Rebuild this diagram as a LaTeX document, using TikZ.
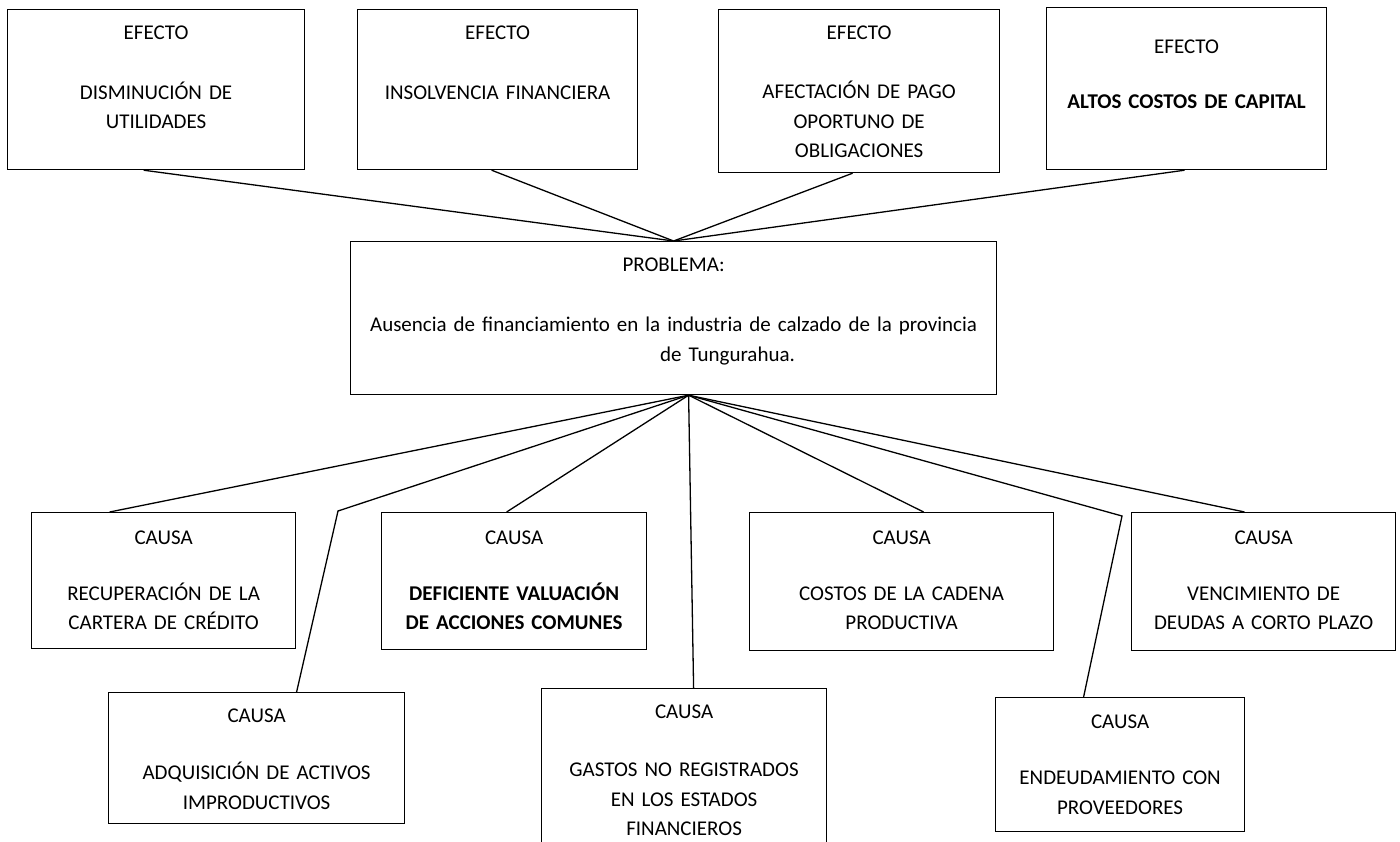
\documentclass[tikz,border=0pt]{standalone}
\usepackage{fontspec}
\setmainfont{Carlito}
\usetikzlibrary{positioning, calc}
\tikzset{
  box/.style={draw, line width=1.2pt, anchor=north west, inner sep=0pt},
  txt/.style={anchor=base, text width=660pt, align=center, inner sep=0pt,
              font=\fontsize{21}{29.3}\selectfont},
  link/.style={line width=1.3pt}
}

\begin{document}
\begin{tikzpicture}[x=1pt, y=-1pt]
    \useasboundingbox (0,0) rectangle (1400,841);

    % Efectos
    \node[box, minimum width=297pt, minimum height=160pt] (ef1) at (7,9) {};
    \node[box, minimum width=280pt, minimum height=160pt] (ef2) at (357,9) {};
    \node[box, minimum width=281pt, minimum height=163pt] (ef3) at (718,9) {};
    \node[box, minimum width=280pt, minimum height=162pt] (ef4) at (1046,7) {};

    \node[txt] (ef1t) at ([yshift=-30.7pt]ef1.north) {EFECTO\\[30.5pt]DISMINUCIÓN DE\\UTILIDADES};
    \node[txt] (ef2t) at ([yshift=-30.7pt]ef2.north) {EFECTO\\[30.5pt]INSOLVENCIA FINANCIERA};
    \node[txt] (ef3t) at ([yshift=-30.7pt]ef3.north) {EFECTO\\[29.7pt]AFECTACIÓN DE PAGO\\OPORTUNO DE\\OBLIGACIONES};
    \node[txt] (ef4t) at ([yshift=-46.7pt]ef4.north) {EFECTO\\[25.7pt]\textbf{ALTOS COSTOS DE CAPITAL}};

    % Problema
    \node[box, minimum width=646pt, minimum height=153pt] (prob) at (350,241) {};
    \node[txt] (probt) at ([yshift=-30.7pt]prob.north) {PROBLEMA:\\[30.7pt]Ausencia de financiamiento en la industria de calzado de la provincia\\\hspace*{108pt}de Tungurahua.};

    % Causas
    \node[box, minimum width=264pt, minimum height=136pt] (ca1) at (31,512) {};
    \node[box, minimum width=296pt, minimum height=131pt] (ca2) at (108,692) {};
    \node[box, minimum width=265pt, minimum height=137pt] (ca3) at (381,512) {};
    \node[box, minimum width=285pt, minimum height=170pt] (ca4) at (541,688) {};
    \node[box, minimum width=304pt, minimum height=138pt] (ca5) at (749,512) {};
    \node[box, minimum width=249pt, minimum height=134pt] (ca6) at (995,697) {};
    \node[box, minimum width=264pt, minimum height=138pt] (ca7) at (1131,512) {};

    \node[txt] (ca1t) at ([yshift=-32.7pt]ca1.north) {CAUSA\\[26.3pt]RECUPERACIÓN DE LA\\CARTERA DE CRÉDITO};
    \node[txt] (ca2t) at ([yshift=-30.7pt]ca2.north) {CAUSA\\[27.7pt]ADQUISICIÓN DE ACTIVOS\\IMPRODUCTIVOS};
    \node[txt] (ca3t) at ([yshift=-32.7pt]ca3.north) {CAUSA\\[26.3pt]\textbf{DEFICIENTE VALUACIÓN}\\\textbf{DE ACCIONES COMUNES}};
    \node[txt] (ca4t) at ([yshift=-30.7pt]ca4.north) {CAUSA\\[28.7pt]GASTOS NO REGISTRADOS\\EN LOS ESTADOS\\FINANCIEROS};
    \node[txt] (ca5t) at ([yshift=-32.7pt]ca5.north) {CAUSA\\[26.3pt]COSTOS DE LA CADENA\\PRODUCTIVA};
    \node[txt] (ca6t) at ([yshift=-31.7pt]ca6.north) {CAUSA\\[26.7pt]ENDEUDAMIENTO CON\\PROVEEDORES};
    \node[txt] (ca7t) at ([yshift=-32.7pt]ca7.north) {CAUSA\\[26.3pt]VENCIMIENTO DE\\DEUDAS A CORTO PLAZO};

    % Conectores
    \coordinate (hubtop) at (prob.north);
    \coordinate (hubbot) at ([xshift=15pt]prob.south);
    \coordinate (bendA) at (338,511);
    \coordinate (bendB) at (1122,516);

    \draw[link] ([xshift=-12.5pt]ef1.south) -- (hubtop);
    \draw[link] ([xshift=-6pt]ef2.south) -- (hubtop);
    \draw[link] ([xshift=-6.5pt]ef3.south) -- (hubtop);
    \draw[link] ([xshift=-2pt]ef4.south) -- (hubtop);

    \draw[link] (hubbot) -- ([xshift=-54pt]ca1.north);
    \draw[link] (hubbot) -- (bendA) -- ([xshift=40pt]ca2.north);
    \draw[link] (hubbot) -- ([xshift=-7.5pt]ca3.north);
    \draw[link] (hubbot) -- ([xshift=9.5pt]ca4.north);
    \draw[link] (hubbot) -- ([xshift=22pt]ca5.north);
    \draw[link] (hubbot) -- (bendB) -- ([xshift=-36.5pt]ca6.north);
    \draw[link] (hubbot) -- ([xshift=-19pt]ca7.north);
\end{tikzpicture}
\end{document}
